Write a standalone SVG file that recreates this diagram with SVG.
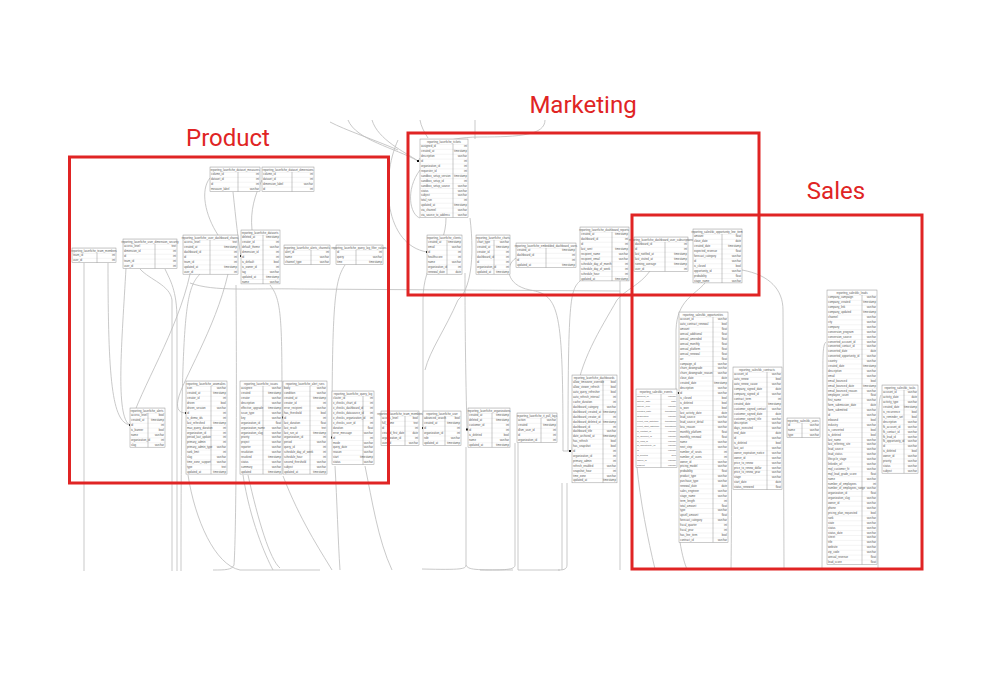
<svg xmlns="http://www.w3.org/2000/svg" width="1000" height="693" viewBox="0 0 1000 693">
<defs>
<pattern id="rows" width="10" height="4.9" patternUnits="userSpaceOnUse"><rect width="10" height="4.9" fill="#fff"/><path d="M0,0.1H10" stroke="#c4c4c4" stroke-width="0.3"/></pattern>
<style>
.tb{fill:url(#rows);stroke:#999;stroke-width:0.5}
.dv{stroke:#777;stroke-width:0.4;fill:none}
.tt{font-family:"Liberation Sans",sans-serif;font-size:2.8px;fill:#555;text-anchor:middle}
.n{font-family:"Liberation Sans",sans-serif;font-size:2.8px;fill:#555}
.ty{font-family:"Liberation Sans",sans-serif;font-size:2.8px;fill:#555;text-anchor:end}
.sm{font-size:2.4px}
.c{fill:none;stroke:#bbb;stroke-width:0.8}
.dot{fill:#111}
.box{fill:none;stroke:#e02424;stroke-width:3}
.lbl{font-family:Roboto,"Liberation Sans",sans-serif;font-size:24px;fill:#e02424;text-anchor:middle}
</style>
</defs>
<rect width="1000" height="693" fill="#fff"/>
<g id="connectors">
<path class="c" d="M348,120 C356,140 395,148 418,161"/>
<path class="c" d="M372,120 C378,140 405,152 418,161"/>
<path class="c" d="M330,122 C345,130 375,140 398,150"/>
<path class="c" d="M545,120 C545,135 520,137 480,137 C440,137 425,150 418,161"/>
<path class="c" d="M420,120 C421,126 424,132 428,138"/>
<path class="c" d="M475,120 L475,139"/>
<path class="c" d="M398,140 C380,180 385,245 427,252"/>
<path class="c" d="M420,170 C405,190 410,215 420,218"/>
<path class="c" d="M84,263 L84,571"/>
<path class="c" d="M108,263 C108,380 112,422 130,425"/>
<path class="c" d="M126,268 C122,340 115,418 130,425"/>
<path class="c" d="M190,274 C178,330 140,390 130,425"/>
<path class="c" d="M140,269 C150,280 170,285 172,300 L172,571"/>
<path class="c" d="M165,269 C170,280 177,290 177,320 L177,571"/>
<path class="c" d="M200,274 C185,290 181,310 181,571"/>
<path class="c" d="M228,274 C215,330 182,380 178,400 C176,410 180,413 186,413"/>
<path class="c" d="M188,475 C195,520 215,565 240,570 L320,570"/>
<path class="c" d="M236,285 C237,400 236,540 234,565 C232,570 225,570 213,570"/>
<path class="c" d="M243,475 C250,520 265,555 273,570"/>
<path class="c" d="M248,475 C258,520 270,560 280,568"/>
<path class="c" d="M210,178 C200,190 205,215 218,235"/>
<path class="c" d="M262,180 C255,195 250,210 252,230"/>
<path class="c" d="M233,192 C236,220 238,240 241,256"/>
<path class="c" d="M190,283 C215,292 250,288 300,289 L620,291"/>
<path class="c" d="M270,285 C282,300 282,320 282,417 L283,417"/>
<path class="c" d="M345,265 C335,280 332,300 332,437"/>
<path class="c" d="M283,476 C300,520 320,550 332,570"/>
<path class="c" d="M335,466 C337,500 338,540 340,570"/>
<path class="c" d="M365,466 C372,500 378,540 392,570"/>
<path class="c" d="M446,218 C446,250 423,260 423,300 L423,428"/>
<path class="c" d="M470,218 C475,260 470,290 458,300 C445,330 430,350 425,370"/>
<path class="c" d="M465,273 C465,300 465,350 467,429"/>
<path class="c" d="M466,447 L466,565 C466,569 462,570 422,569"/>
<path class="c" d="M466,565 C468,570 475,570 513,570"/>
<path class="c" d="M516,258 C505,265 505,285 530,290 C560,295 563,310 563,451 L570,451"/>
<path class="c" d="M580,281 C570,290 568,300 568,451"/>
<path class="c" d="M650,271 C640,285 625,290 617,300 C600,330 580,360 575,400 L572,451"/>
<path class="c" d="M515,443 L515,565 C515,570 505,570 480,570"/>
<path class="c" d="M518,443 L518,570 L560,570"/>
<path class="c" d="M567,483 L567,565 C567,570 562,570 558,570"/>
<path class="c" d="M562,483 L562,570"/>
<path class="c" d="M620,281 L620,570"/>
<path class="c" d="M637,467 C640,500 648,540 655,569"/>
<path class="c" d="M680,542 C682,555 685,565 687,569"/>
<path class="c" d="M705,283 C695,295 677,300 676,330 L676,390 C676,393 677,393 679,393"/>
<path class="c" d="M733,380 C731,420 732,500 731,570"/>
<path class="c" d="M742,270 C770,275 783,290 783,310 L784,569"/>
<path class="c" d="M826,342 C822,345 823,360 823,400 L822,569"/>
<path class="c" d="M881,395 C878,400 878,420 878,569"/>
</g>
<g id="dots">
<rect class="dot" x="129" y="424" width="2" height="2"/>
<rect class="dot" x="185" y="412" width="2" height="2"/>
<rect class="dot" x="282" y="416.5" width="2" height="2"/>
<rect class="dot" x="331" y="436.5" width="2" height="2"/>
<rect class="dot" x="240" y="255" width="2" height="2"/>
<rect class="dot" x="422" y="427" width="2" height="2"/>
<rect class="dot" x="466" y="428.5" width="2" height="2"/>
<rect class="dot" x="569" y="450" width="2" height="2"/>
<rect class="dot" x="417" y="160" width="2" height="2"/>
<rect class="dot" x="426" y="251" width="2" height="2"/>
<rect class="dot" x="678" y="392" width="2" height="2"/>
</g>
<g id="t1" transform="translate(210,167)"><rect class="tb" width="50" height="24.5"/><path class="dv" d="M28,4.9V24.5"/><text class="tt" x="25" y="3.5">reporting_laserfiche_dataset_measures</text><text class="n" y="3.5"><tspan x="1" dy="4.9">column_id</tspan><tspan x="1" dy="4.9">dataset_id</tspan><tspan x="1" dy="4.9">id</tspan><tspan x="1" dy="4.9">measure_label</tspan></text><text class="ty" y="3.5"><tspan x="49" dy="4.9">int</tspan><tspan x="49" dy="4.9">int</tspan><tspan x="49" dy="4.9">int</tspan><tspan x="49" dy="4.9">varchar</tspan></text></g>
<g id="t2" transform="translate(262,167)"><rect class="tb" width="52" height="24.5"/><path class="dv" d="M30,4.9V24.5"/><text class="tt" x="26" y="3.5">reporting_laserfiche_dataset_dimensions</text><text class="n" y="3.5"><tspan x="1" dy="4.9">column_id</tspan><tspan x="1" dy="4.9">dataset_id</tspan><tspan x="1" dy="4.9">dimension_label</tspan><tspan x="1" dy="4.9">id</tspan></text><text class="ty" y="3.5"><tspan x="51" dy="4.9">int</tspan><tspan x="51" dy="4.9">int</tspan><tspan x="51" dy="4.9">varchar</tspan><tspan x="51" dy="4.9">int</tspan></text></g>
<g id="t3" transform="translate(72,248)"><rect class="tb" width="44" height="14.7"/><path class="dv" d="M25,4.9V14.7"/><text class="tt" x="22" y="3.5">reporting_laserfiche_team_members</text><text class="n" y="3.5"><tspan x="1" dy="4.9">team_id</tspan><tspan x="1" dy="4.9">user_id</tspan></text><text class="ty" y="3.5"><tspan x="43" dy="4.9">int</tspan><tspan x="43" dy="4.9">int</tspan></text></g>
<g id="t4" transform="translate(123,239)"><rect class="tb" width="54" height="29.4"/><path class="dv" d="M32,4.9V29.4"/><text class="tt" x="27" y="3.5">reporting_laserfiche_user_dimension_security</text><text class="n" y="3.5"><tspan x="1" dy="4.9">access_level</tspan><tspan x="1" dy="4.9">dimension_id</tspan><tspan x="1" dy="4.9">id</tspan><tspan x="1" dy="4.9">team_id</tspan><tspan x="1" dy="4.9">user_id</tspan></text><text class="ty" y="3.5"><tspan x="53" dy="4.9">text</tspan><tspan x="53" dy="4.9">int</tspan><tspan x="53" dy="4.9">int</tspan><tspan x="53" dy="4.9">int</tspan><tspan x="53" dy="4.9">int</tspan></text></g>
<g id="t5" transform="translate(183,235)"><rect class="tb" width="55" height="39.2"/><path class="dv" d="M27,4.9V39.2"/><text class="tt" x="27" y="3.5">reporting_laserfiche_user_dashboard_shares</text><text class="n" y="3.5"><tspan x="1" dy="4.9">access_level</tspan><tspan x="1" dy="4.9">created_at</tspan><tspan x="1" dy="4.9">dashboard_id</tspan><tspan x="1" dy="4.9">id</tspan><tspan x="1" dy="4.9">team_id</tspan><tspan x="1" dy="4.9">updated_at</tspan><tspan x="1" dy="4.9">user_id</tspan></text><text class="ty" y="3.5"><tspan x="54" dy="4.9">text</tspan><tspan x="54" dy="4.9">timestamp</tspan><tspan x="54" dy="4.9">int</tspan><tspan x="54" dy="4.9">int</tspan><tspan x="54" dy="4.9">int</tspan><tspan x="54" dy="4.9">timestamp</tspan><tspan x="54" dy="4.9">int</tspan></text></g>
<g id="t6" transform="translate(241,230)"><rect class="tb" width="39" height="53.9"/><path class="dv" d="M22,4.9V53.9"/><text class="tt" x="19" y="3.5">reporting_laserfiche_datasets</text><text class="n" y="3.5"><tspan x="1" dy="4.9">deleted_at</tspan><tspan x="1" dy="4.9">creator_id</tspan><tspan x="1" dy="4.9">default_theme</tspan><tspan x="1" dy="4.9">dimension_id</tspan><tspan x="1" dy="4.9">id</tspan><tspan x="1" dy="4.9">is_default</tspan><tspan x="1" dy="4.9">is_owner_id</tspan><tspan x="1" dy="4.9">tag</tspan><tspan x="1" dy="4.9">updated_at</tspan><tspan x="1" dy="4.9">name</tspan></text><text class="ty" y="3.5"><tspan x="38" dy="4.9">timestamp</tspan><tspan x="38" dy="4.9">int</tspan><tspan x="38" dy="4.9">varchar</tspan><tspan x="38" dy="4.9">int</tspan><tspan x="38" dy="4.9">int</tspan><tspan x="38" dy="4.9">bool</tspan><tspan x="38" dy="4.9">int</tspan><tspan x="38" dy="4.9">varchar</tspan><tspan x="38" dy="4.9">timestamp</tspan><tspan x="38" dy="4.9">varchar</tspan></text></g>
<g id="t7" transform="translate(284,245)"><rect class="tb" width="46" height="19.6"/><path class="dv" d="M27,4.9V19.6"/><text class="tt" x="23" y="3.5">reporting_laserfiche_alerts_channels</text><text class="n" y="3.5"><tspan x="1" dy="4.9">alert_id</tspan><tspan x="1" dy="4.9">name</tspan><tspan x="1" dy="4.9">channel_type</tspan></text><text class="ty" y="3.5"><tspan x="45" dy="4.9">int</tspan><tspan x="45" dy="4.9">varchar</tspan><tspan x="45" dy="4.9">varchar</tspan></text></g>
<g id="t8" transform="translate(336,245)"><rect class="tb" width="47" height="19.6"/><path class="dv" d="M20,4.9V19.6"/><text class="tt" x="23" y="3.5">reporting_laserfiche_query_log_filter_values</text><text class="n" y="3.5"><tspan x="1" dy="4.9">id</tspan><tspan x="1" dy="4.9">query</tspan><tspan x="1" dy="4.9">time</tspan></text><text class="ty" y="3.5"><tspan x="46" dy="4.9">int</tspan><tspan x="46" dy="4.9">varchar</tspan><tspan x="46" dy="4.9">timestamp</tspan></text></g>
<g id="t9" transform="translate(130,408)"><rect class="tb" width="35" height="39.2"/><path class="dv" d="M18,4.9V39.2"/><text class="tt" x="17" y="3.5">reporting_laserfiche_alerts</text><text class="n" y="3.5"><tspan x="1" dy="4.9">access_level</tspan><tspan x="1" dy="4.9">created_at</tspan><tspan x="1" dy="4.9">id</tspan><tspan x="1" dy="4.9">is_banner</tspan><tspan x="1" dy="4.9">name</tspan><tspan x="1" dy="4.9">organization_id</tspan><tspan x="1" dy="4.9">slug</tspan></text><text class="ty" y="3.5"><tspan x="34" dy="4.9">bool</tspan><tspan x="34" dy="4.9">timestamp</tspan><tspan x="34" dy="4.9">int</tspan><tspan x="34" dy="4.9">bool</tspan><tspan x="34" dy="4.9">varchar</tspan><tspan x="34" dy="4.9">int</tspan><tspan x="34" dy="4.9">varchar</tspan></text></g>
<g id="t10" transform="translate(186,381)"><rect class="tb" width="41" height="93.1"/><path class="dv" d="M25,4.9V93.1"/><text class="tt" x="20" y="3.5">reporting_laserfiche_anomalies</text><text class="n" y="3.5"><tspan x="1" dy="4.9">icon</tspan><tspan x="1" dy="4.9">created_at</tspan><tspan x="1" dy="4.9">creator_id</tspan><tspan x="1" dy="4.9">driven</tspan><tspan x="1" dy="4.9">driven_session</tspan><tspan x="1" dy="4.9">id</tspan><tspan x="1" dy="4.9">is_demo_ids</tspan><tspan x="1" dy="4.9">last_refreshed</tspan><tspan x="1" dy="4.9">max_query_duration</tspan><tspan x="1" dy="4.9">organization_id</tspan><tspan x="1" dy="4.9">period_last_update</tspan><tspan x="1" dy="4.9">primary_admin</tspan><tspan x="1" dy="4.9">primary_admin_type</tspan><tspan x="1" dy="4.9">rank_limit</tspan><tspan x="1" dy="4.9">slug</tspan><tspan x="1" dy="4.9">time_zone_support</tspan><tspan x="1" dy="4.9">type</tspan><tspan x="1" dy="4.9">updated_at</tspan></text><text class="ty" y="3.5"><tspan x="40" dy="4.9">varchar</tspan><tspan x="40" dy="4.9">timestamp</tspan><tspan x="40" dy="4.9">int</tspan><tspan x="40" dy="4.9">bool</tspan><tspan x="40" dy="4.9">varchar</tspan><tspan x="40" dy="4.9">int</tspan><tspan x="40" dy="4.9">int</tspan><tspan x="40" dy="4.9">timestamp</tspan><tspan x="40" dy="4.9">int</tspan><tspan x="40" dy="4.9">int</tspan><tspan x="40" dy="4.9">int</tspan><tspan x="40" dy="4.9">int</tspan><tspan x="40" dy="4.9">varchar</tspan><tspan x="40" dy="4.9">int</tspan><tspan x="40" dy="4.9">varchar</tspan><tspan x="40" dy="4.9">varchar</tspan><tspan x="40" dy="4.9">text</tspan><tspan x="40" dy="4.9">timestamp</tspan></text></g>
<g id="t11" transform="translate(240,381)"><rect class="tb" width="42" height="93.1"/><path class="dv" d="M23,4.9V93.1"/><text class="tt" x="21" y="3.5">reporting_laserfiche_issues</text><text class="n" y="3.5"><tspan x="1" dy="4.9">assignee</tspan><tspan x="1" dy="4.9">created</tspan><tspan x="1" dy="4.9">creator</tspan><tspan x="1" dy="4.9">description</tspan><tspan x="1" dy="4.9">effective_upgrade</tspan><tspan x="1" dy="4.9">issue_type</tspan><tspan x="1" dy="4.9">key</tspan><tspan x="1" dy="4.9">organization_id</tspan><tspan x="1" dy="4.9">organization_name</tspan><tspan x="1" dy="4.9">organization_slug</tspan><tspan x="1" dy="4.9">priority</tspan><tspan x="1" dy="4.9">project</tspan><tspan x="1" dy="4.9">reporter</tspan><tspan x="1" dy="4.9">resolution</tspan><tspan x="1" dy="4.9">resolved</tspan><tspan x="1" dy="4.9">status</tspan><tspan x="1" dy="4.9">summary</tspan><tspan x="1" dy="4.9">updated</tspan></text><text class="ty" y="3.5"><tspan x="41" dy="4.9">varchar</tspan><tspan x="41" dy="4.9">timestamp</tspan><tspan x="41" dy="4.9">varchar</tspan><tspan x="41" dy="4.9">varchar</tspan><tspan x="41" dy="4.9">timestamp</tspan><tspan x="41" dy="4.9">varchar</tspan><tspan x="41" dy="4.9">varchar</tspan><tspan x="41" dy="4.9">float</tspan><tspan x="41" dy="4.9">varchar</tspan><tspan x="41" dy="4.9">varchar</tspan><tspan x="41" dy="4.9">varchar</tspan><tspan x="41" dy="4.9">varchar</tspan><tspan x="41" dy="4.9">varchar</tspan><tspan x="41" dy="4.9">varchar</tspan><tspan x="41" dy="4.9">timestamp</tspan><tspan x="41" dy="4.9">varchar</tspan><tspan x="41" dy="4.9">varchar</tspan><tspan x="41" dy="4.9">timestamp</tspan></text></g>
<g id="t12" transform="translate(283,381)"><rect class="tb" width="44" height="93.1"/><path class="dv" d="M27,4.9V93.1"/><text class="tt" x="22" y="3.5">reporting_laserfiche_alert_runs</text><text class="n" y="3.5"><tspan x="1" dy="4.9">body</tspan><tspan x="1" dy="4.9">condition</tspan><tspan x="1" dy="4.9">created_at</tspan><tspan x="1" dy="4.9">creator_id</tspan><tspan x="1" dy="4.9">error_recipient</tspan><tspan x="1" dy="4.9">has_threshold</tspan><tspan x="1" dy="4.9">id</tspan><tspan x="1" dy="4.9">last_duration</tspan><tspan x="1" dy="4.9">last_result</tspan><tspan x="1" dy="4.9">last_run_at</tspan><tspan x="1" dy="4.9">organization_id</tspan><tspan x="1" dy="4.9">period</tspan><tspan x="1" dy="4.9">query_id</tspan><tspan x="1" dy="4.9">schedule_day_of_week</tspan><tspan x="1" dy="4.9">schedule_hour</tspan><tspan x="1" dy="4.9">second_threshold</tspan><tspan x="1" dy="4.9">subject</tspan><tspan x="1" dy="4.9">updated_at</tspan></text><text class="ty" y="3.5"><tspan x="43" dy="4.9">varchar</tspan><tspan x="43" dy="4.9">varchar</tspan><tspan x="43" dy="4.9">timestamp</tspan><tspan x="43" dy="4.9">int</tspan><tspan x="43" dy="4.9">varchar</tspan><tspan x="43" dy="4.9">bool</tspan><tspan x="43" dy="4.9">int</tspan><tspan x="43" dy="4.9">float</tspan><tspan x="43" dy="4.9">text</tspan><tspan x="43" dy="4.9">timestamp</tspan><tspan x="43" dy="4.9">int</tspan><tspan x="43" dy="4.9">varchar</tspan><tspan x="43" dy="4.9">int</tspan><tspan x="43" dy="4.9">int</tspan><tspan x="43" dy="4.9">int</tspan><tspan x="43" dy="4.9">varchar</tspan><tspan x="43" dy="4.9">varchar</tspan><tspan x="43" dy="4.9">timestamp</tspan></text></g>
<g id="t13" transform="translate(332,391)"><rect class="tb" width="42" height="73.5"/><path class="dv" d="M31,4.9V73.5"/><text class="tt" x="21" y="3.5">reporting_laserfiche_query_log</text><text class="n" y="3.5"><tspan x="1" dy="4.9">cluster_id</tspan><tspan x="1" dy="4.9">x_checks_chart_id</tspan><tspan x="1" dy="4.9">x_checks_dashboard_id</tspan><tspan x="1" dy="4.9">x_checks_datasource_id</tspan><tspan x="1" dy="4.9">x_checks_organization_id</tspan><tspan x="1" dy="4.9">x_checks_user_id</tspan><tspan x="1" dy="4.9">duration</tspan><tspan x="1" dy="4.9">error_message</tspan><tspan x="1" dy="4.9">id</tspan><tspan x="1" dy="4.9">mode</tspan><tspan x="1" dy="4.9">query_date</tspan><tspan x="1" dy="4.9">reason</tspan><tspan x="1" dy="4.9">start</tspan><tspan x="1" dy="4.9">status</tspan></text><text class="ty" y="3.5"><tspan x="41" dy="4.9">int</tspan><tspan x="41" dy="4.9">int</tspan><tspan x="41" dy="4.9">int</tspan><tspan x="41" dy="4.9">int</tspan><tspan x="41" dy="4.9">int</tspan><tspan x="41" dy="4.9">int</tspan><tspan x="41" dy="4.9">float</tspan><tspan x="41" dy="4.9">varchar</tspan><tspan x="41" dy="4.9">int</tspan><tspan x="41" dy="4.9">varchar</tspan><tspan x="41" dy="4.9">varchar</tspan><tspan x="41" dy="4.9">varchar</tspan><tspan x="41" dy="4.9">timestamp</tspan><tspan x="41" dy="4.9">varchar</tspan></text></g>
<g id="t14" transform="translate(381,411)"><rect class="tb" width="38" height="34.3"/><path class="dv" d="M24,4.9V34.3"/><text class="tt" x="19" y="3.5">reporting_laserfiche_team_members</text><text class="n" y="3.5"><tspan x="1" dy="4.9">access_level</tspan><tspan x="1" dy="4.9">full_name</tspan><tspan x="1" dy="4.9">id</tspan><tspan x="1" dy="4.9">created_first_date</tspan><tspan x="1" dy="4.9">organization_id</tspan><tspan x="1" dy="4.9">user_id</tspan></text><text class="ty" y="3.5"><tspan x="37" dy="4.9">bool</tspan><tspan x="37" dy="4.9">text</tspan><tspan x="37" dy="4.9">int</tspan><tspan x="37" dy="4.9">date</tspan><tspan x="37" dy="4.9">int</tspan><tspan x="37" dy="4.9">varchar</tspan></text></g>
<g id="t15" transform="translate(423,411)"><rect class="tb" width="38" height="34.3"/><path class="dv" d="M22,4.9V34.3"/><text class="tt" x="19" y="3.5">reporting_laserfiche_user</text><text class="n" y="3.5"><tspan x="1" dy="4.9">advanced_search</tspan><tspan x="1" dy="4.9">created_at</tspan><tspan x="1" dy="4.9">id</tspan><tspan x="1" dy="4.9">organization_id</tspan><tspan x="1" dy="4.9">role</tspan><tspan x="1" dy="4.9">updated_at</tspan></text><text class="ty" y="3.5"><tspan x="37" dy="4.9">bool</tspan><tspan x="37" dy="4.9">timestamp</tspan><tspan x="37" dy="4.9">int</tspan><tspan x="37" dy="4.9">int</tspan><tspan x="37" dy="4.9">varchar</tspan><tspan x="37" dy="4.9">timestamp</tspan></text></g>
<g id="t16" transform="translate(468,408)"><rect class="tb" width="42" height="39.2"/><path class="dv" d="M24,4.9V39.2"/><text class="tt" x="21" y="3.5">reporting_laserfiche_organizations</text><text class="n" y="3.5"><tspan x="1" dy="4.9">created_at</tspan><tspan x="1" dy="4.9">deleted_at</tspan><tspan x="1" dy="4.9">customer_id</tspan><tspan x="1" dy="4.9">id</tspan><tspan x="1" dy="4.9">is_deleted</tspan><tspan x="1" dy="4.9">name</tspan><tspan x="1" dy="4.9">updated_at</tspan></text><text class="ty" y="3.5"><tspan x="41" dy="4.9">timestamp</tspan><tspan x="41" dy="4.9">timestamp</tspan><tspan x="41" dy="4.9">int</tspan><tspan x="41" dy="4.9">int</tspan><tspan x="41" dy="4.9">bool</tspan><tspan x="41" dy="4.9">varchar</tspan><tspan x="41" dy="4.9">timestamp</tspan></text></g>
<g id="t17" transform="translate(517,413)"><rect class="tb" width="40" height="29.4"/><path class="dv" d="M24,4.9V29.4"/><text class="tt" x="20" y="3.5">reporting_laserfiche_it_pull_logs</text><text class="n" y="3.5"><tspan x="1" dy="4.9">action</tspan><tspan x="1" dy="4.9">created</tspan><tspan x="1" dy="4.9">dlsm_user_id</tspan><tspan x="1" dy="4.9">id</tspan><tspan x="1" dy="4.9">organization_id</tspan></text><text class="ty" y="3.5"><tspan x="39" dy="4.9">varchar</tspan><tspan x="39" dy="4.9">timestamp</tspan><tspan x="39" dy="4.9">int</tspan><tspan x="39" dy="4.9">int</tspan><tspan x="39" dy="4.9">int</tspan></text></g>
<g id="t18" transform="translate(572,375)"><rect class="tb" width="45" height="107.8"/><path class="dv" d="M31,4.9V107.8"/><text class="tt" x="22" y="3.5">reporting_laserfiche_dashboards</text><text class="n" y="3.5"><tspan x="1" dy="4.9">allow_timezone_override</tspan><tspan x="1" dy="4.9">allow_viewer_refresh</tspan><tspan x="1" dy="4.9">auto_query_refresher</tspan><tspan x="1" dy="4.9">auto_refresh_interval</tspan><tspan x="1" dy="4.9">cache_duration</tspan><tspan x="1" dy="4.9">dashboard_category</tspan><tspan x="1" dy="4.9">dashboard_created_at</tspan><tspan x="1" dy="4.9">dashboard_creator_id</tspan><tspan x="1" dy="4.9">dashboard_deleted_at</tspan><tspan x="1" dy="4.9">dashboard_id</tspan><tspan x="1" dy="4.9">dashboard_title</tspan><tspan x="1" dy="4.9">date_archived_at</tspan><tspan x="1" dy="4.9">has_refresh</tspan><tspan x="1" dy="4.9">has_snapshot</tspan><tspan x="1" dy="4.9">id</tspan><tspan x="1" dy="4.9">organization_id</tspan><tspan x="1" dy="4.9">primary_admin</tspan><tspan x="1" dy="4.9">refresh_enabled</tspan><tspan x="1" dy="4.9">snapshot_hour</tspan><tspan x="1" dy="4.9">time_zone</tspan><tspan x="1" dy="4.9">updated_at</tspan></text><text class="ty" y="3.5"><tspan x="44" dy="4.9">bool</tspan><tspan x="44" dy="4.9">bool</tspan><tspan x="44" dy="4.9">bool</tspan><tspan x="44" dy="4.9">int</tspan><tspan x="44" dy="4.9">int</tspan><tspan x="44" dy="4.9">varchar</tspan><tspan x="44" dy="4.9">timestamp</tspan><tspan x="44" dy="4.9">int</tspan><tspan x="44" dy="4.9">timestamp</tspan><tspan x="44" dy="4.9">int</tspan><tspan x="44" dy="4.9">varchar</tspan><tspan x="44" dy="4.9">timestamp</tspan><tspan x="44" dy="4.9">bool</tspan><tspan x="44" dy="4.9">bool</tspan><tspan x="44" dy="4.9">int</tspan><tspan x="44" dy="4.9">int</tspan><tspan x="44" dy="4.9">int</tspan><tspan x="44" dy="4.9">varchar</tspan><tspan x="44" dy="4.9">int</tspan><tspan x="44" dy="4.9">varchar</tspan><tspan x="44" dy="4.9">timestamp</tspan></text></g>
<g id="t19" transform="translate(420,139)"><rect class="tb" width="48" height="78.4"/><path class="dv" d="M33,4.9V78.4"/><text class="tt" x="24" y="3.5">reporting_laserfiche_tickets</text><text class="n" y="3.5"><tspan x="1" dy="4.9">assigned_id</tspan><tspan x="1" dy="4.9">created_at</tspan><tspan x="1" dy="4.9">description</tspan><tspan x="1" dy="4.9">id</tspan><tspan x="1" dy="4.9">organization_id</tspan><tspan x="1" dy="4.9">requester_id</tspan><tspan x="1" dy="4.9">sandbox_setup_version</tspan><tspan x="1" dy="4.9">sandbox_setup_id</tspan><tspan x="1" dy="4.9">sandbox_setup_source</tspan><tspan x="1" dy="4.9">status</tspan><tspan x="1" dy="4.9">subject</tspan><tspan x="1" dy="4.9">total_run</tspan><tspan x="1" dy="4.9">updated_at</tspan><tspan x="1" dy="4.9">via_channel</tspan><tspan x="1" dy="4.9">via_source_to_address</tspan></text><text class="ty" y="3.5"><tspan x="47" dy="4.9">int</tspan><tspan x="47" dy="4.9">timestamp</tspan><tspan x="47" dy="4.9">varchar</tspan><tspan x="47" dy="4.9">int</tspan><tspan x="47" dy="4.9">int</tspan><tspan x="47" dy="4.9">int</tspan><tspan x="47" dy="4.9">timestamp</tspan><tspan x="47" dy="4.9">int</tspan><tspan x="47" dy="4.9">varchar</tspan><tspan x="47" dy="4.9">varchar</tspan><tspan x="47" dy="4.9">varchar</tspan><tspan x="47" dy="4.9">int</tspan><tspan x="47" dy="4.9">timestamp</tspan><tspan x="47" dy="4.9">varchar</tspan><tspan x="47" dy="4.9">varchar</tspan></text></g>
<g id="t20" transform="translate(427,235)"><rect class="tb" width="35" height="39.2"/><path class="dv" d="M20,4.9V39.2"/><text class="tt" x="17" y="3.5">reporting_laserfiche_clients</text><text class="n" y="3.5"><tspan x="1" dy="4.9">created_at</tspan><tspan x="1" dy="4.9">email</tspan><tspan x="1" dy="4.9">id</tspan><tspan x="1" dy="4.9">healthscore</tspan><tspan x="1" dy="4.9">name</tspan><tspan x="1" dy="4.9">organization_id</tspan><tspan x="1" dy="4.9">renewal_date</tspan></text><text class="ty" y="3.5"><tspan x="34" dy="4.9">timestamp</tspan><tspan x="34" dy="4.9">varchar</tspan><tspan x="34" dy="4.9">int</tspan><tspan x="34" dy="4.9">int</tspan><tspan x="34" dy="4.9">varchar</tspan><tspan x="34" dy="4.9">int</tspan><tspan x="34" dy="4.9">date</tspan></text></g>
<g id="t21" transform="translate(476,235)"><rect class="tb" width="34" height="39.2"/><path class="dv" d="M18,4.9V39.2"/><text class="tt" x="17" y="3.5">reporting_laserfiche_charts</text><text class="n" y="3.5"><tspan x="1" dy="4.9">chart_type</tspan><tspan x="1" dy="4.9">created_at</tspan><tspan x="1" dy="4.9">creator_id</tspan><tspan x="1" dy="4.9">dashboard_id</tspan><tspan x="1" dy="4.9">id</tspan><tspan x="1" dy="4.9">organization_id</tspan><tspan x="1" dy="4.9">updated_at</tspan></text><text class="ty" y="3.5"><tspan x="33" dy="4.9">varchar</tspan><tspan x="33" dy="4.9">timestamp</tspan><tspan x="33" dy="4.9">int</tspan><tspan x="33" dy="4.9">int</tspan><tspan x="33" dy="4.9">int</tspan><tspan x="33" dy="4.9">int</tspan><tspan x="33" dy="4.9">timestamp</tspan></text></g>
<g id="t22" transform="translate(516,243)"><rect class="tb" width="60" height="24.5"/><path class="dv" d="M30,4.9V24.5"/><text class="tt" x="30" y="3.5">reporting_laserfiche_embedded_dashboard_users</text><text class="n" y="3.5"><tspan x="1" dy="4.9">created_at</tspan><tspan x="1" dy="4.9">dashboard_id</tspan><tspan x="1" dy="4.9">id</tspan><tspan x="1" dy="4.9">updated_at</tspan></text><text class="ty" y="3.5"><tspan x="59" dy="4.9">timestamp</tspan><tspan x="59" dy="4.9">int</tspan><tspan x="59" dy="4.9">int</tspan><tspan x="59" dy="4.9">timestamp</tspan></text></g>
<g id="t23" transform="translate(580,227)"><rect class="tb" width="49" height="53.9"/><path class="dv" d="M32,4.9V53.9"/><text class="tt" x="24" y="3.5">reporting_laserfiche_dashboard_reports</text><text class="n" y="3.5"><tspan x="1" dy="4.9">created_at</tspan><tspan x="1" dy="4.9">dashboard_id</tspan><tspan x="1" dy="4.9">id</tspan><tspan x="1" dy="4.9">last_sent</tspan><tspan x="1" dy="4.9">recipient_name</tspan><tspan x="1" dy="4.9">recipient_email</tspan><tspan x="1" dy="4.9">schedule_day_of_month</tspan><tspan x="1" dy="4.9">schedule_day_of_week</tspan><tspan x="1" dy="4.9">schedule_hour</tspan><tspan x="1" dy="4.9">updated_at</tspan></text><text class="ty" y="3.5"><tspan x="48" dy="4.9">timestamp</tspan><tspan x="48" dy="4.9">int</tspan><tspan x="48" dy="4.9">int</tspan><tspan x="48" dy="4.9">timestamp</tspan><tspan x="48" dy="4.9">varchar</tspan><tspan x="48" dy="4.9">varchar</tspan><tspan x="48" dy="4.9">int</tspan><tspan x="48" dy="4.9">int</tspan><tspan x="48" dy="4.9">int</tspan><tspan x="48" dy="4.9">timestamp</tspan></text></g>
<g id="t24" transform="translate(634,237)"><rect class="tb" width="54" height="34.3"/><path class="dv" d="M31,4.9V34.3"/><text class="tt" x="27" y="3.5">reporting_laserfiche_dashboard_user_subscriptions</text><text class="n" y="3.5"><tspan x="1" dy="4.9">dashboard_id</tspan><tspan x="1" dy="4.9">id</tspan><tspan x="1" dy="4.9">last_notified_at</tspan><tspan x="1" dy="4.9">last_visited_at</tspan><tspan x="1" dy="4.9">running_average</tspan><tspan x="1" dy="4.9">user_id</tspan></text><text class="ty" y="3.5"><tspan x="53" dy="4.9">int</tspan><tspan x="53" dy="4.9">int</tspan><tspan x="53" dy="4.9">timestamp</tspan><tspan x="53" dy="4.9">timestamp</tspan><tspan x="53" dy="4.9">timestamp</tspan><tspan x="53" dy="4.9">int</tspan></text></g>
<g id="t25" transform="translate(693,229)"><rect class="tb" width="49" height="53.9"/><path class="dv" d="M29,4.9V53.9"/><text class="tt" x="24" y="3.5">reporting_salesfdc_opportunity_line_item</text><text class="n" y="3.5"><tspan x="1" dy="4.9">amount</tspan><tspan x="1" dy="4.9">close_date</tspan><tspan x="1" dy="4.9">created_date</tspan><tspan x="1" dy="4.9">expected_revenue</tspan><tspan x="1" dy="4.9">forecast_category</tspan><tspan x="1" dy="4.9">id</tspan><tspan x="1" dy="4.9">is_closed</tspan><tspan x="1" dy="4.9">opportunity_id</tspan><tspan x="1" dy="4.9">probability</tspan><tspan x="1" dy="4.9">stage_name</tspan></text><text class="ty" y="3.5"><tspan x="48" dy="4.9">float</tspan><tspan x="48" dy="4.9">date</tspan><tspan x="48" dy="4.9">timestamp</tspan><tspan x="48" dy="4.9">float</tspan><tspan x="48" dy="4.9">varchar</tspan><tspan x="48" dy="4.9">varchar</tspan><tspan x="48" dy="4.9">bool</tspan><tspan x="48" dy="4.9">varchar</tspan><tspan x="48" dy="4.9">float</tspan><tspan x="48" dy="4.9">varchar</tspan></text></g>
<g id="t26" transform="translate(679,312)"><rect class="tb" width="49" height="230.3"/><path class="dv" d="M34,4.9V230.3"/><text class="tt" x="24" y="3.5">reporting_salesfdc_opportunities</text><text class="n" y="3.5"><tspan x="1" dy="4.9">account_id</tspan><tspan x="1" dy="4.9">auto_contract_renewal</tspan><tspan x="1" dy="4.9">amount</tspan><tspan x="1" dy="4.9">annual_additional</tspan><tspan x="1" dy="4.9">annual_amended</tspan><tspan x="1" dy="4.9">annual_monthly</tspan><tspan x="1" dy="4.9">annual_platform</tspan><tspan x="1" dy="4.9">annual_renewal</tspan><tspan x="1" dy="4.9">arr</tspan><tspan x="1" dy="4.9">campaign_id</tspan><tspan x="1" dy="4.9">churn_downgrade</tspan><tspan x="1" dy="4.9">churn_downgrade_reason</tspan><tspan x="1" dy="4.9">close_date</tspan><tspan x="1" dy="4.9">created_date</tspan><tspan x="1" dy="4.9">description</tspan><tspan x="1" dy="4.9">id</tspan><tspan x="1" dy="4.9">is_closed</tspan><tspan x="1" dy="4.9">is_deleted</tspan><tspan x="1" dy="4.9">is_won</tspan><tspan x="1" dy="4.9">last_activity_date</tspan><tspan x="1" dy="4.9">lead_source</tspan><tspan x="1" dy="4.9">lead_source_detail</tspan><tspan x="1" dy="4.9">loss_reason</tspan><tspan x="1" dy="4.9">monthly_platform</tspan><tspan x="1" dy="4.9">monthly_renewal</tspan><tspan x="1" dy="4.9">name</tspan><tspan x="1" dy="4.9">next_step</tspan><tspan x="1" dy="4.9">number_of_seats</tspan><tspan x="1" dy="4.9">number_of_users</tspan><tspan x="1" dy="4.9">owner_id</tspan><tspan x="1" dy="4.9">pricing_model</tspan><tspan x="1" dy="4.9">probability</tspan><tspan x="1" dy="4.9">product_type</tspan><tspan x="1" dy="4.9">purchase_type</tspan><tspan x="1" dy="4.9">renewal_date</tspan><tspan x="1" dy="4.9">sales_engineer</tspan><tspan x="1" dy="4.9">stage_name</tspan><tspan x="1" dy="4.9">term_length</tspan><tspan x="1" dy="4.9">total_amount</tspan><tspan x="1" dy="4.9">type</tspan><tspan x="1" dy="4.9">upsell_amount</tspan><tspan x="1" dy="4.9">forecast_category</tspan><tspan x="1" dy="4.9">fiscal_quarter</tspan><tspan x="1" dy="4.9">fiscal_year</tspan><tspan x="1" dy="4.9">has_line_item</tspan><tspan x="1" dy="4.9">contract_id</tspan></text><text class="ty" y="3.5"><tspan x="48" dy="4.9">varchar</tspan><tspan x="48" dy="4.9">bool</tspan><tspan x="48" dy="4.9">float</tspan><tspan x="48" dy="4.9">float</tspan><tspan x="48" dy="4.9">float</tspan><tspan x="48" dy="4.9">float</tspan><tspan x="48" dy="4.9">float</tspan><tspan x="48" dy="4.9">float</tspan><tspan x="48" dy="4.9">float</tspan><tspan x="48" dy="4.9">varchar</tspan><tspan x="48" dy="4.9">varchar</tspan><tspan x="48" dy="4.9">varchar</tspan><tspan x="48" dy="4.9">date</tspan><tspan x="48" dy="4.9">timestamp</tspan><tspan x="48" dy="4.9">varchar</tspan><tspan x="48" dy="4.9">varchar</tspan><tspan x="48" dy="4.9">bool</tspan><tspan x="48" dy="4.9">bool</tspan><tspan x="48" dy="4.9">bool</tspan><tspan x="48" dy="4.9">date</tspan><tspan x="48" dy="4.9">varchar</tspan><tspan x="48" dy="4.9">varchar</tspan><tspan x="48" dy="4.9">varchar</tspan><tspan x="48" dy="4.9">float</tspan><tspan x="48" dy="4.9">float</tspan><tspan x="48" dy="4.9">varchar</tspan><tspan x="48" dy="4.9">varchar</tspan><tspan x="48" dy="4.9">int</tspan><tspan x="48" dy="4.9">int</tspan><tspan x="48" dy="4.9">varchar</tspan><tspan x="48" dy="4.9">varchar</tspan><tspan x="48" dy="4.9">float</tspan><tspan x="48" dy="4.9">varchar</tspan><tspan x="48" dy="4.9">varchar</tspan><tspan x="48" dy="4.9">date</tspan><tspan x="48" dy="4.9">varchar</tspan><tspan x="48" dy="4.9">varchar</tspan><tspan x="48" dy="4.9">int</tspan><tspan x="48" dy="4.9">float</tspan><tspan x="48" dy="4.9">varchar</tspan><tspan x="48" dy="4.9">float</tspan><tspan x="48" dy="4.9">varchar</tspan><tspan x="48" dy="4.9">int</tspan><tspan x="48" dy="4.9">int</tspan><tspan x="48" dy="4.9">bool</tspan><tspan x="48" dy="4.9">varchar</tspan></text></g>
<g id="t27" transform="translate(636,389)"><rect class="tb" width="41" height="78.4"/><path class="dv" d="M25,4.9V78.4"/><text class="tt" x="20" y="3.5">reporting_salesfdc_events</text><text class="n sm" y="3.5"><tspan x="1" dy="4.9">account_id</tspan><tspan x="1" dy="4.9">activity_date</tspan><tspan x="1" dy="4.9">activity_type</tspan><tspan x="1" dy="4.9">created_date</tspan><tspan x="1" dy="4.9">description</tspan><tspan x="1" dy="4.9">event_end_datetime</tspan><tspan x="1" dy="4.9">event_start_datetime</tspan><tspan x="1" dy="4.9">fk_contact_id</tspan><tspan x="1" dy="4.9">fk_account_id</tspan><tspan x="1" dy="4.9">fk_lead_id</tspan><tspan x="1" dy="4.9">fk_opportunity_id</tspan><tspan x="1" dy="4.9">id</tspan><tspan x="1" dy="4.9">is_deleted</tspan><tspan x="1" dy="4.9">owner_id</tspan><tspan x="1" dy="4.9">subject</tspan></text><text class="ty sm" y="3.5"><tspan x="40" dy="4.9">varchar</tspan><tspan x="40" dy="4.9">date</tspan><tspan x="40" dy="4.9">varchar</tspan><tspan x="40" dy="4.9">timestamp</tspan><tspan x="40" dy="4.9">varchar</tspan><tspan x="40" dy="4.9">timestamp</tspan><tspan x="40" dy="4.9">timestamp</tspan><tspan x="40" dy="4.9">varchar</tspan><tspan x="40" dy="4.9">varchar</tspan><tspan x="40" dy="4.9">varchar</tspan><tspan x="40" dy="4.9">varchar</tspan><tspan x="40" dy="4.9">varchar</tspan><tspan x="40" dy="4.9">bool</tspan><tspan x="40" dy="4.9">varchar</tspan><tspan x="40" dy="4.9">varchar</tspan></text></g>
<g id="t28" transform="translate(733,367)"><rect class="tb" width="49" height="122.5"/><path class="dv" d="M34,4.9V122.5"/><text class="tt" x="24" y="3.5">reporting_salesfdc_contracts</text><text class="n" y="3.5"><tspan x="1" dy="4.9">account_id</tspan><tspan x="1" dy="4.9">auto_renew</tspan><tspan x="1" dy="4.9">auto_renew_cause</tspan><tspan x="1" dy="4.9">company_signed_date</tspan><tspan x="1" dy="4.9">company_signed_id</tspan><tspan x="1" dy="4.9">contract_term</tspan><tspan x="1" dy="4.9">created_date</tspan><tspan x="1" dy="4.9">customer_signed_contact</tspan><tspan x="1" dy="4.9">customer_signed_date</tspan><tspan x="1" dy="4.9">customer_signed_title</tspan><tspan x="1" dy="4.9">description</tspan><tspan x="1" dy="4.9">days_executed</tspan><tspan x="1" dy="4.9">end_date</tspan><tspan x="1" dy="4.9">id</tspan><tspan x="1" dy="4.9">is_deleted</tspan><tspan x="1" dy="4.9">last_act</tspan><tspan x="1" dy="4.9">owner_expiration_notice</tspan><tspan x="1" dy="4.9">owner_id</tspan><tspan x="1" dy="4.9">price_to_renew</tspan><tspan x="1" dy="4.9">price_to_renew_dollar</tspan><tspan x="1" dy="4.9">price_to_renew_year</tspan><tspan x="1" dy="4.9">stage</tspan><tspan x="1" dy="4.9">start_date</tspan><tspan x="1" dy="4.9">status_renewed</tspan></text><text class="ty" y="3.5"><tspan x="48" dy="4.9">varchar</tspan><tspan x="48" dy="4.9">bool</tspan><tspan x="48" dy="4.9">varchar</tspan><tspan x="48" dy="4.9">date</tspan><tspan x="48" dy="4.9">varchar</tspan><tspan x="48" dy="4.9">int</tspan><tspan x="48" dy="4.9">timestamp</tspan><tspan x="48" dy="4.9">varchar</tspan><tspan x="48" dy="4.9">date</tspan><tspan x="48" dy="4.9">varchar</tspan><tspan x="48" dy="4.9">varchar</tspan><tspan x="48" dy="4.9">varchar</tspan><tspan x="48" dy="4.9">date</tspan><tspan x="48" dy="4.9">varchar</tspan><tspan x="48" dy="4.9">bool</tspan><tspan x="48" dy="4.9">varchar</tspan><tspan x="48" dy="4.9">varchar</tspan><tspan x="48" dy="4.9">varchar</tspan><tspan x="48" dy="4.9">varchar</tspan><tspan x="48" dy="4.9">varchar</tspan><tspan x="48" dy="4.9">varchar</tspan><tspan x="48" dy="4.9">varchar</tspan><tspan x="48" dy="4.9">date</tspan><tspan x="48" dy="4.9">float</tspan></text></g>
<g id="t29" transform="translate(787,418)"><rect class="tb" width="33" height="19.6"/><path class="dv" d="M15,4.9V19.6"/><text class="tt" x="16" y="3.5">reporting_salesfdc_users</text><text class="n" y="3.5"><tspan x="1" dy="4.9">id</tspan><tspan x="1" dy="4.9">name</tspan><tspan x="1" dy="4.9">type</tspan></text><text class="ty" y="3.5"><tspan x="32" dy="4.9">varchar</tspan><tspan x="32" dy="4.9">varchar</tspan><tspan x="32" dy="4.9">varchar</tspan></text></g>
<g id="t30" transform="translate(827,290)"><rect class="tb" width="50" height="274.4"/><path class="dv" d="M35,4.9V274.4"/><text class="tt" x="25" y="3.5">reporting_salesfdc_leads</text><text class="n" y="3.5"><tspan x="1" dy="4.9">company_campaign</tspan><tspan x="1" dy="4.9">company_created</tspan><tspan x="1" dy="4.9">company_link</tspan><tspan x="1" dy="4.9">company_updated</tspan><tspan x="1" dy="4.9">channel</tspan><tspan x="1" dy="4.9">city</tspan><tspan x="1" dy="4.9">company</tspan><tspan x="1" dy="4.9">conversion_program</tspan><tspan x="1" dy="4.9">conversion_source</tspan><tspan x="1" dy="4.9">converted_account_id</tspan><tspan x="1" dy="4.9">converted_contact_id</tspan><tspan x="1" dy="4.9">converted_date</tspan><tspan x="1" dy="4.9">converted_opportunity_id</tspan><tspan x="1" dy="4.9">country</tspan><tspan x="1" dy="4.9">created_date</tspan><tspan x="1" dy="4.9">description</tspan><tspan x="1" dy="4.9">email</tspan><tspan x="1" dy="4.9">email_bounced</tspan><tspan x="1" dy="4.9">email_bounced_date</tspan><tspan x="1" dy="4.9">email_bounced_reason</tspan><tspan x="1" dy="4.9">employee_count</tspan><tspan x="1" dy="4.9">first_name</tspan><tspan x="1" dy="4.9">form_submission_date</tspan><tspan x="1" dy="4.9">form_submitted</tspan><tspan x="1" dy="4.9">id</tspan><tspan x="1" dy="4.9">inbound</tspan><tspan x="1" dy="4.9">industry</tspan><tspan x="1" dy="4.9">is_converted</tspan><tspan x="1" dy="4.9">is_deleted</tspan><tspan x="1" dy="4.9">last_name</tspan><tspan x="1" dy="4.9">last_referring_site</tspan><tspan x="1" dy="4.9">lead_source</tspan><tspan x="1" dy="4.9">lead_status</tspan><tspan x="1" dy="4.9">lifecycle_stage</tspan><tspan x="1" dy="4.9">linkedin_url</tspan><tspan x="1" dy="4.9">mql_customer_fit</tspan><tspan x="1" dy="4.9">mql_lead_grade_score</tspan><tspan x="1" dy="4.9">name</tspan><tspan x="1" dy="4.9">number_of_employees</tspan><tspan x="1" dy="4.9">number_of_employees_range</tspan><tspan x="1" dy="4.9">organization_id</tspan><tspan x="1" dy="4.9">organization_slug</tspan><tspan x="1" dy="4.9">owner_id</tspan><tspan x="1" dy="4.9">phone</tspan><tspan x="1" dy="4.9">pricing_plan_requested</tspan><tspan x="1" dy="4.9">rank</tspan><tspan x="1" dy="4.9">state</tspan><tspan x="1" dy="4.9">status</tspan><tspan x="1" dy="4.9">status_date</tspan><tspan x="1" dy="4.9">street</tspan><tspan x="1" dy="4.9">title</tspan><tspan x="1" dy="4.9">website</tspan><tspan x="1" dy="4.9">zip_code</tspan><tspan x="1" dy="4.9">annual_revenue</tspan><tspan x="1" dy="4.9">lead_score</tspan></text><text class="ty" y="3.5"><tspan x="49" dy="4.9">varchar</tspan><tspan x="49" dy="4.9">timestamp</tspan><tspan x="49" dy="4.9">varchar</tspan><tspan x="49" dy="4.9">timestamp</tspan><tspan x="49" dy="4.9">varchar</tspan><tspan x="49" dy="4.9">varchar</tspan><tspan x="49" dy="4.9">varchar</tspan><tspan x="49" dy="4.9">varchar</tspan><tspan x="49" dy="4.9">varchar</tspan><tspan x="49" dy="4.9">varchar</tspan><tspan x="49" dy="4.9">varchar</tspan><tspan x="49" dy="4.9">date</tspan><tspan x="49" dy="4.9">varchar</tspan><tspan x="49" dy="4.9">varchar</tspan><tspan x="49" dy="4.9">timestamp</tspan><tspan x="49" dy="4.9">varchar</tspan><tspan x="49" dy="4.9">varchar</tspan><tspan x="49" dy="4.9">bool</tspan><tspan x="49" dy="4.9">timestamp</tspan><tspan x="49" dy="4.9">varchar</tspan><tspan x="49" dy="4.9">float</tspan><tspan x="49" dy="4.9">varchar</tspan><tspan x="49" dy="4.9">date</tspan><tspan x="49" dy="4.9">varchar</tspan><tspan x="49" dy="4.9">varchar</tspan><tspan x="49" dy="4.9">bool</tspan><tspan x="49" dy="4.9">varchar</tspan><tspan x="49" dy="4.9">bool</tspan><tspan x="49" dy="4.9">bool</tspan><tspan x="49" dy="4.9">varchar</tspan><tspan x="49" dy="4.9">varchar</tspan><tspan x="49" dy="4.9">varchar</tspan><tspan x="49" dy="4.9">varchar</tspan><tspan x="49" dy="4.9">varchar</tspan><tspan x="49" dy="4.9">varchar</tspan><tspan x="49" dy="4.9">varchar</tspan><tspan x="49" dy="4.9">float</tspan><tspan x="49" dy="4.9">varchar</tspan><tspan x="49" dy="4.9">int</tspan><tspan x="49" dy="4.9">varchar</tspan><tspan x="49" dy="4.9">float</tspan><tspan x="49" dy="4.9">varchar</tspan><tspan x="49" dy="4.9">varchar</tspan><tspan x="49" dy="4.9">varchar</tspan><tspan x="49" dy="4.9">bool</tspan><tspan x="49" dy="4.9">varchar</tspan><tspan x="49" dy="4.9">varchar</tspan><tspan x="49" dy="4.9">varchar</tspan><tspan x="49" dy="4.9">varchar</tspan><tspan x="49" dy="4.9">varchar</tspan><tspan x="49" dy="4.9">varchar</tspan><tspan x="49" dy="4.9">varchar</tspan><tspan x="49" dy="4.9">varchar</tspan><tspan x="49" dy="4.9">float</tspan><tspan x="49" dy="4.9">float</tspan></text></g>
<g id="t31" transform="translate(882,385)"><rect class="tb" width="36" height="88.2"/><path class="dv" d="M22,4.9V88.2"/><text class="tt" x="18" y="3.5">reporting_salesfdc_tasks</text><text class="n" y="3.5"><tspan x="1" dy="4.9">account_id</tspan><tspan x="1" dy="4.9">activity_date</tspan><tspan x="1" dy="4.9">activity_type</tspan><tspan x="1" dy="4.9">created_date</tspan><tspan x="1" dy="4.9">is_recurrence</tspan><tspan x="1" dy="4.9">is_reminder_set</tspan><tspan x="1" dy="4.9">description</tspan><tspan x="1" dy="4.9">fk_account_id</tspan><tspan x="1" dy="4.9">fk_contact_id</tspan><tspan x="1" dy="4.9">fk_lead_id</tspan><tspan x="1" dy="4.9">fk_opportunity_id</tspan><tspan x="1" dy="4.9">id</tspan><tspan x="1" dy="4.9">is_deleted</tspan><tspan x="1" dy="4.9">owner_id</tspan><tspan x="1" dy="4.9">priority</tspan><tspan x="1" dy="4.9">status</tspan><tspan x="1" dy="4.9">subject</tspan></text><text class="ty" y="3.5"><tspan x="35" dy="4.9">varchar</tspan><tspan x="35" dy="4.9">date</tspan><tspan x="35" dy="4.9">varchar</tspan><tspan x="35" dy="4.9">timestamp</tspan><tspan x="35" dy="4.9">bool</tspan><tspan x="35" dy="4.9">bool</tspan><tspan x="35" dy="4.9">varchar</tspan><tspan x="35" dy="4.9">varchar</tspan><tspan x="35" dy="4.9">varchar</tspan><tspan x="35" dy="4.9">varchar</tspan><tspan x="35" dy="4.9">varchar</tspan><tspan x="35" dy="4.9">varchar</tspan><tspan x="35" dy="4.9">bool</tspan><tspan x="35" dy="4.9">varchar</tspan><tspan x="35" dy="4.9">varchar</tspan><tspan x="35" dy="4.9">varchar</tspan><tspan x="35" dy="4.9">varchar</tspan></text></g>
<g id="group-product"><rect class="box" x="69.5" y="157" width="319" height="326"/><text class="lbl" x="228" y="146">Product</text></g>
<g id="group-marketing"><rect class="box" x="408" y="133" width="351" height="162"/><text class="lbl" x="583" y="113">Marketing</text></g>
<g id="group-sales"><rect class="box" x="632" y="215" width="290" height="354"/><text class="lbl" x="836" y="199">Sales</text></g>
</svg>
